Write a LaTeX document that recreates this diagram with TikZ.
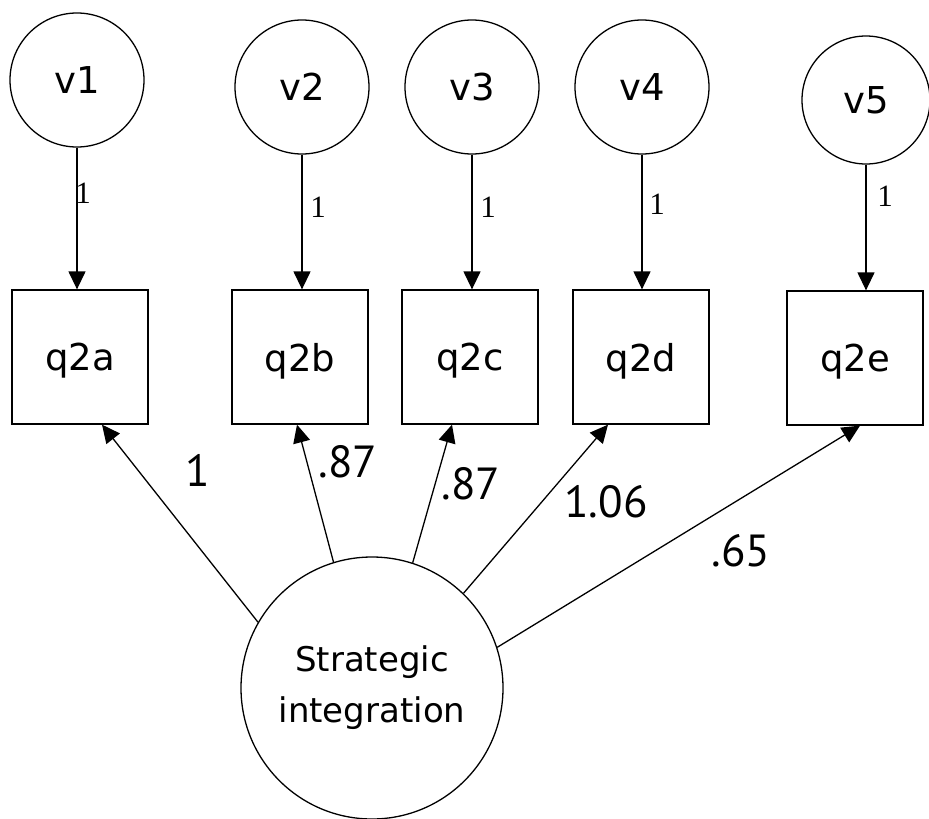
\documentclass[tikz,border=0pt]{standalone}
\usepackage{fontspec}
\setmainfont{DejaVu Sans}
\newfontfamily\pathfont{Liberation Serif}
\newfontfamily\coeffont{PT Sans}
\usetikzlibrary{arrows.meta,calc}
\begin{document}
\begin{tikzpicture}[x=1pt,y=-1pt,
  every node/.style={inner sep=0pt},
  err/.style={circle,draw,line width=1.3pt,minimum size=134pt,
    font=\fontsize{37}{44}\selectfont},
  obs/.style={rectangle,draw,line width=1.3pt,minimum width=136pt,
    minimum height=134pt,text depth=0pt,font=\fontsize{37}{44}\selectfont},
  lat/.style={circle,draw,line width=1.3pt,minimum size=262pt,align=center,
    font=\fontsize{34}{51}\selectfont},
  link/.style={line width=1.3pt,-{Triangle[length=18pt,width=17pt]}},
  one/.style={font=\pathfont\fontsize{31}{36}\selectfont},
  coef/.style={font=\coeffont\fontsize{45}{50}\selectfont}]
\useasboundingbox (0,0) rectangle (929,819);

% error terms
\node[err] (v1) at (77,80) {v1};
\node[err] (v2) at (302,87) {v2};
\node[err] (v3) at (472,87) {v3};
\node[err] (v4) at (642,87) {v4};
\node[err,minimum size=128pt] (v5) at (866,100) {v5};

% observed indicators
\node[obs] (q2a) at (80,357) {q2a};
\node[obs] (q2b) at (300,357) {q2b};
\node[obs] (q2c) at (470,357) {q2c};
\node[obs] (q2d) at (641,357) {q2d};
\node[obs] (q2e) at (855,358) {q2e};

% latent factor
\node[lat] (si) at (372,688) {Strategic\\integration};

% error paths fixed to 1
\foreach \v/\q in {v1/q2a,v2/q2b,v3/q2c,v4/q2d,v5/q2e}
  \draw[link] (\v.south) -- (\v.south |- \q.north);
\node[one] (w1) at (83,193) {1};
\node[one] (w2) at (318,207) {1};
\node[one] (w3) at (488,207) {1};
\node[one] (w4) at (657,204) {1};
\node[one] (w5) at (885,196) {1};

% factor loadings
\draw[link] (si.150.9) -- ($(q2a.south)+(22,0)$);
\draw[link] (si.107.5) -- ($(q2b.south)+(-3,0)$);
\draw[link] (si.72.5) -- ($(q2c.south)+(-18,0)$);
\draw[link] (si.46.2) -- ($(q2d.south)+(-33,0)$);
\draw[link] (si.18) -- ($(q2e.south)+(5,0)$);

\node[coef] (c1) at (198,470) {1};
\node[coef] (c2) at (348,462) {.87};
\node[coef] (c3) at (471,484) {.87};
\node[coef] (c4) at (606,502) {1.06};
\node[coef] (c5) at (741,551) {.65};
\end{tikzpicture}
\end{document}
